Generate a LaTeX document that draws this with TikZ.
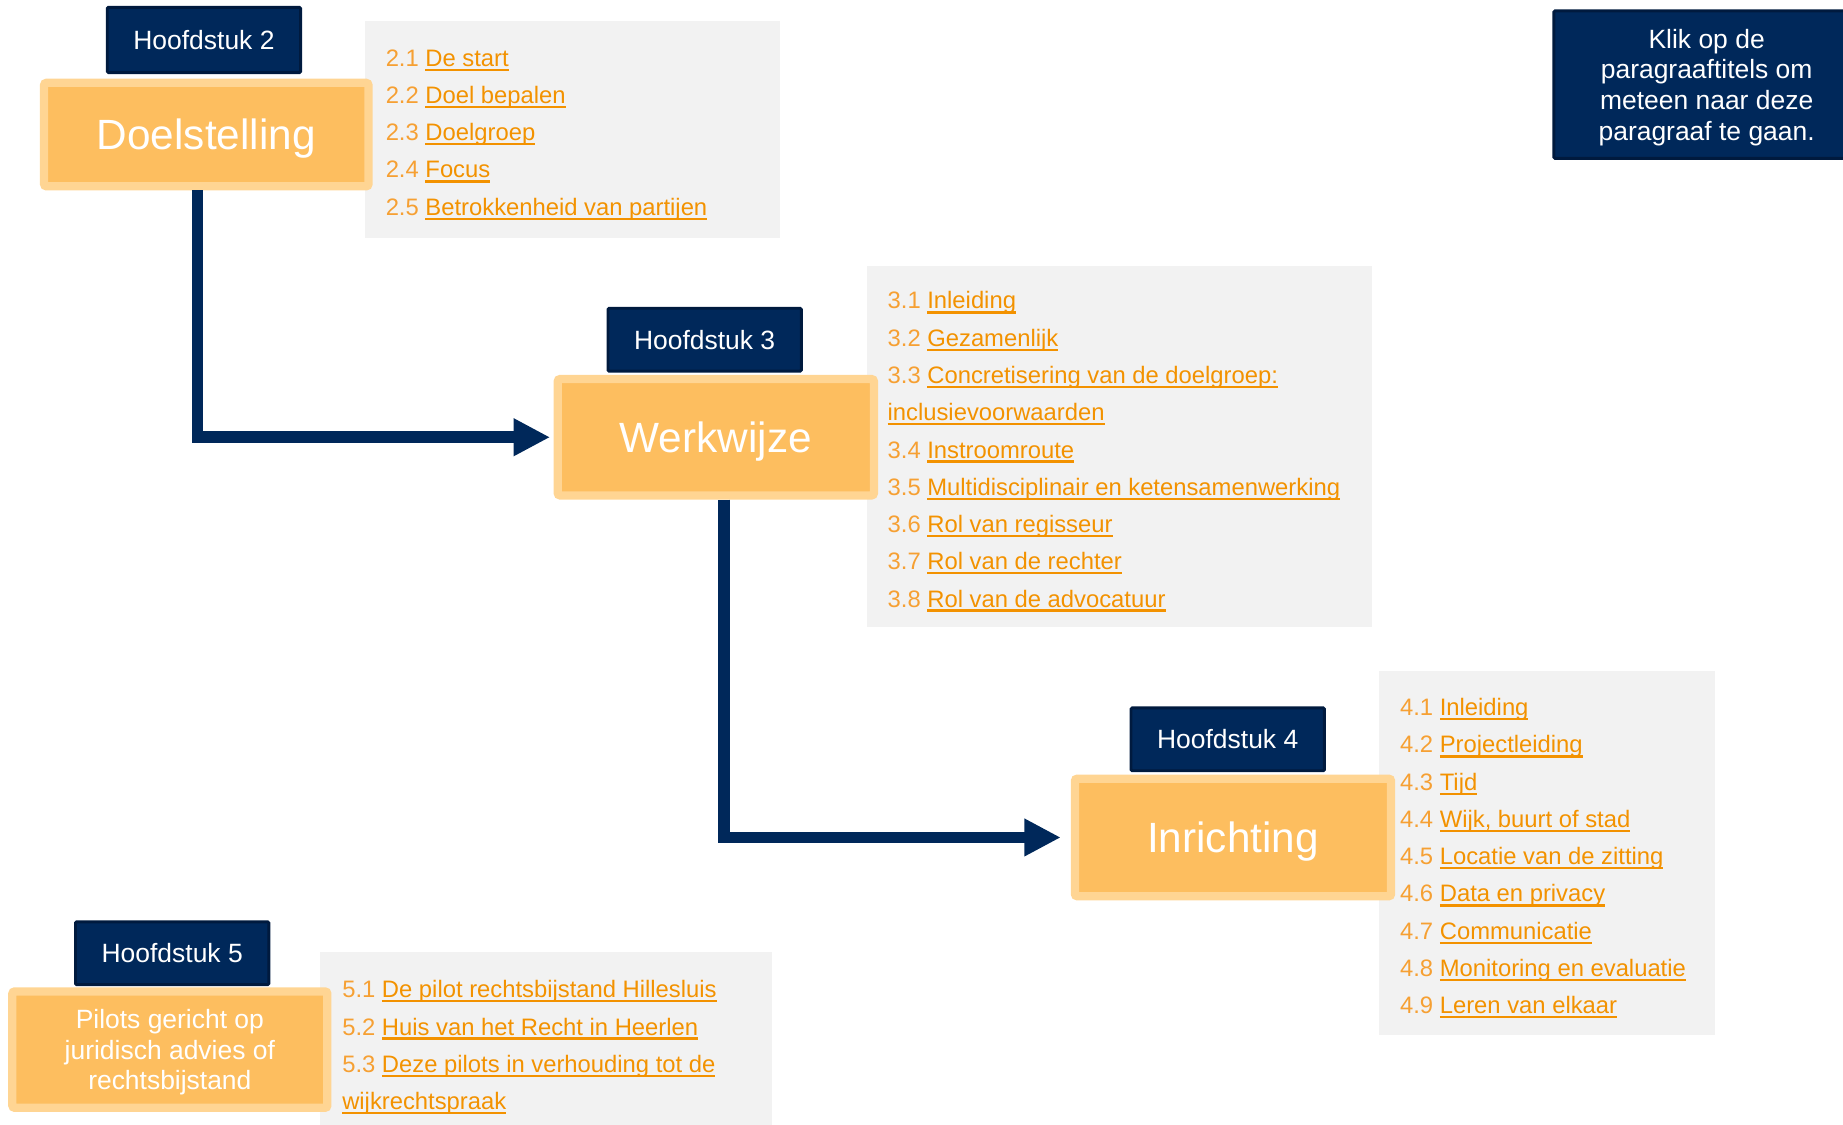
\documentclass[tikz,border=0pt]{standalone}
\usepackage{fontspec}
\setmainfont{Liberation Sans}
\usepackage{xcolor}
\usetikzlibrary{arrows.meta}

\definecolor{navy}{HTML}{00285A}
\definecolor{navyrand}{HTML}{001A3E}
\definecolor{oranje}{HTML}{FDBE5F}
\definecolor{oranjerand}{HTML}{FFD593}
\definecolor{grijs}{HTML}{F2F2F2}
\definecolor{link}{HTML}{F39200}
\definecolor{nummer}{HTML}{F6A033}

\newcommand{\onderlijn}[1]{\leavevmode{\color{link}\setbox0=\hbox{#1}\rlap{\rule[-4pt]{\wd0}{2pt}}\box0}}
\newcommand{\koppel}[2]{{\color{nummer}#1} \onderlijn{#2}}

\tikzset{
  hoofdstuk/.style={draw=navyrand, fill=navy, line width=2.5pt, text=white,
    minimum width=164.5pt, minimum height=53.5pt, inner sep=0pt,
    rounded corners=1pt, font=\fontsize{22.5}{26}\selectfont},
  onderdeel/.style={draw=oranjerand, fill=oranje, line width=7pt, text=white,
    minimum width=269pt, minimum height=99pt, inner sep=0pt, text depth=0pt,
    rounded corners=2pt, font=\fontsize{36}{40}\selectfont},
  lijst/.style={fill=grijs, anchor=north west, inner sep=0pt},
  tekst/.style={anchor=north west, align=left, inner sep=0pt,
    font=\fontsize{20.25}{31.7}\selectfont},
  pijl/.style={draw=navy, line width=10pt,
    -{Triangle[length=31pt,width=30pt]}}
}

\begin{document}
\begin{tikzpicture}[x=1pt,y=-1pt]
\useasboundingbox (0,0) rectangle (1568,957);

%lijsten
\node[lijst, minimum width=353pt, minimum height=184pt] (lijst2) at (310,18) {};
\node[tekst] (tekst2) at ([shift={(18,24)}]lijst2.north west)
  {\koppel{2.1}{De start}\\
   \koppel{2.2}{Doel bepalen}\\
   \koppel{2.3}{Doelgroep}\\
   \koppel{2.4}{Focus}\\
   \koppel{2.5}{Betrokkenheid van partijen}};
\node[lijst, minimum width=430pt, minimum height=307pt] (lijst3) at (737,226) {};
\node[tekst] (tekst3) at ([shift={(18,22)}]lijst3.north west)
  {\koppel{3.1}{Inleiding}\\
   \koppel{3.2}{Gezamenlijk}\\
   \koppel{3.3}{Concretisering van de doelgroep:}\\
   \onderlijn{inclusievoorwaarden}\\
   \koppel{3.4}{Instroomroute}\\
   \koppel{3.5}{Multidisciplinair en ketensamenwerking}\\
   \koppel{3.6}{Rol van regisseur}\\
   \koppel{3.7}{Rol van de rechter}\\
   \koppel{3.8}{Rol van de advocatuur}};
\node[lijst, minimum width=286pt, minimum height=309pt] (lijst4) at (1173,571) {};
\node[tekst] (tekst4) at ([shift={(18,23)}]lijst4.north west)
  {\koppel{4.1}{Inleiding}\\
   \koppel{4.2}{Projectleiding}\\
   \koppel{4.3}{Tijd}\\
   \koppel{4.4}{Wijk, buurt of stad}\\
   \koppel{4.5}{Locatie van de zitting}\\
   \koppel{4.6}{Data en privacy}\\
   \koppel{4.7}{Communicatie}\\
   \koppel{4.8}{Monitoring en evaluatie}\\
   \koppel{4.9}{Leren van elkaar}};
\node[lijst, minimum width=385pt, minimum height=160pt] (lijst5) at (272,810) {};
\node[tekst] (tekst5) at ([shift={(19,24)}]lijst5.north west)
  {\koppel{5.1}{De pilot rechtsbijstand Hillesluis}\\
   \koppel{5.2}{Huis van het Recht in Heerlen}\\
   \koppel{5.3}{Deze pilots in verhouding tot de}\\
   \onderlijn{wijkrechtspraak}};

%onderdelen
\node[onderdeel, minimum width=276pt, minimum height=88pt] (doel) at (175.5,114.5) {Doelstelling};
\node[onderdeel] (werk) at (609,372) {Werkwijze};
\node[onderdeel, minimum height=100pt] (inr) at (1049,712.5) {Inrichting};
\node[onderdeel, minimum width=268pt, align=center,
  font=\fontsize{22.5}{26}\selectfont] (pilots) at (144.5,893)
  {Pilots gericht op\\juridisch advies of\\rechtsbijstand};

%hoofdstukken
\node[hoofdstuk, minimum height=55.5pt] (h2) at (173.5,34) {Hoofdstuk 2};
\node[hoofdstuk] (h3) at (599.5,289) {Hoofdstuk 3};
\node[hoofdstuk] (h4) at (1044.5,629) {Hoofdstuk 4};
\node[hoofdstuk] (h5) at (146.5,811) {Hoofdstuk 5};

%uitleg
\node[hoofdstuk, minimum width=260pt, minimum height=125.5pt, align=center,
  text depth=0pt] (uitleg) at (1452,72)
  {Klik op de\\paragraaftitels om\\meteen naar deze\\paragraaf te gaan.};

%pijlen
\draw[pijl, shorten >=3pt] (doel.south -| 168,0) |- (werk.west);
\draw[pijl, shorten >=8.5pt] (werk.south -| 616,0) |- (inr.west);
\end{tikzpicture}
\end{document}
